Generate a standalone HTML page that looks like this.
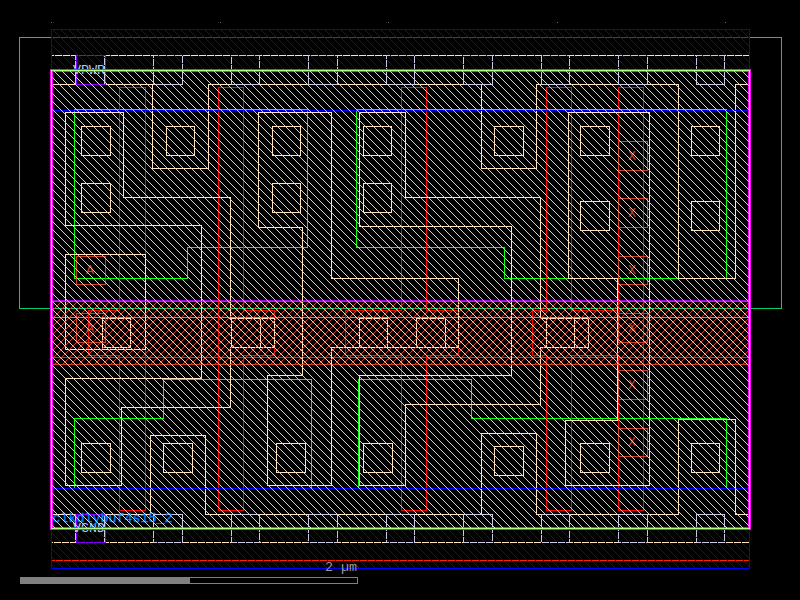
<!DOCTYPE html>
<html lang="en">
<head>
<meta charset="utf-8">
<title>clkdlybuf4s15_2 layout view</title>
<style>
html,body{margin:0;padding:0;background:#000;overflow:hidden}
svg{display:block}
</style>
</head>
<body>
<svg width="800" height="600" viewBox="0 0 800 600" shape-rendering="crispEdges" fill="none" stroke-width="1" text-rendering="optimizeLegibility">
<rect x="0" y="0" width="800" height="600" fill="#000000"/>
<defs><pattern id="hb" width="8" height="8" patternUnits="userSpaceOnUse"><rect x="7" y="0" width="1" height="1" fill="#0000ff"/><rect x="0" y="1" width="1" height="1" fill="#0000ff"/><rect x="1" y="2" width="1" height="1" fill="#0000ff"/><rect x="2" y="3" width="1" height="1" fill="#0000ff"/><rect x="3" y="4" width="1" height="1" fill="#0000ff"/><rect x="4" y="5" width="1" height="1" fill="#0000ff"/><rect x="5" y="6" width="1" height="1" fill="#0000ff"/><rect x="6" y="7" width="1" height="1" fill="#0000ff"/></pattern><pattern id="hy" width="8" height="8" patternUnits="userSpaceOnUse"><rect x="7" y="0" width="1" height="1" fill="#afff80"/><rect x="0" y="1" width="1" height="1" fill="#afff80"/><rect x="1" y="2" width="1" height="1" fill="#afff80"/><rect x="2" y="3" width="1" height="1" fill="#afff80"/><rect x="3" y="4" width="1" height="1" fill="#afff80"/><rect x="4" y="5" width="1" height="1" fill="#afff80"/><rect x="5" y="6" width="1" height="1" fill="#afff80"/><rect x="6" y="7" width="1" height="1" fill="#afff80"/></pattern><pattern id="hn" width="8" height="8" patternUnits="userSpaceOnUse"><rect x="2" y="0" width="1" height="1" fill="#cc4028"/><rect x="1" y="1" width="1" height="1" fill="#cc4028"/><rect x="0" y="2" width="1" height="1" fill="#cc4028"/><rect x="7" y="3" width="1" height="1" fill="#cc4028"/><rect x="6" y="4" width="1" height="1" fill="#cc4028"/><rect x="5" y="5" width="1" height="1" fill="#cc4028"/><rect x="4" y="6" width="1" height="1" fill="#cc4028"/><rect x="3" y="7" width="1" height="1" fill="#cc4028"/></pattern></defs>
<rect x="51" y="22" width="1" height="1" fill="#6a6a78" stroke="none"/>
<rect x="51" y="191" width="1" height="1" fill="#6a6a78" stroke="none"/>
<rect x="51" y="359" width="1" height="1" fill="#6a6a78" stroke="none"/>
<rect x="220" y="22" width="1" height="1" fill="#6a6a78" stroke="none"/>
<rect x="220" y="191" width="1" height="1" fill="#6a6a78" stroke="none"/>
<rect x="220" y="359" width="1" height="1" fill="#6a6a78" stroke="none"/>
<rect x="388" y="22" width="1" height="1" fill="#6a6a78" stroke="none"/>
<rect x="388" y="191" width="1" height="1" fill="#6a6a78" stroke="none"/>
<rect x="388" y="359" width="1" height="1" fill="#6a6a78" stroke="none"/>
<rect x="557" y="22" width="1" height="1" fill="#6a6a78" stroke="none"/>
<rect x="557" y="191" width="1" height="1" fill="#6a6a78" stroke="none"/>
<rect x="557" y="359" width="1" height="1" fill="#6a6a78" stroke="none"/>
<rect x="725" y="22" width="1" height="1" fill="#6a6a78" stroke="none"/>
<rect x="725" y="191" width="1" height="1" fill="#6a6a78" stroke="none"/>
<rect x="725" y="359" width="1" height="1" fill="#6a6a78" stroke="none"/>
<path d="M19.5 37.5 L781.5 37.5 L781.5 308.5 L19.5 308.5 Z" stroke="#00d070" />
<path d="M51.5 37.5 L749.5 37.5 L749.5 300.5 L51.5 300.5 Z" stroke="#9900dd" />
<path d="M51.5 357.5 L749.5 357.5 L749.5 560.5 L51.5 560.5 Z" stroke="#ff2000" />
<path d="M51.5 70.5 L749.5 70.5 L749.5 317.5 L51.5 317.5 Z" stroke="#ff8000" />
<path d="M74.5 109.5 L307.5 109.5 L307.5 247.5 L187.5 247.5 L187.5 278.5 L74.5 278.5 Z" stroke="#00ff00" />
<path d="M356.5 109.5 L726.5 109.5 L726.5 278.5 L504.5 278.5 L504.5 247.5 L356.5 247.5 Z" stroke="#00ff00" />
<path d="M74.5 418.5 L163.5 418.5 L163.5 379.5 L311.5 379.5 L311.5 488.5 L74.5 488.5 Z" stroke="#00ff00" />
<path d="M358.5 379.5 L471.5 379.5 L471.5 418.5 L726.5 418.5 L726.5 488.5 L358.5 488.5 Z" stroke="#00ff00" />
<path d="M119.5 87.5 L145.5 87.5 L145.5 510.5 L119.5 510.5 L119.5 355.5 L88.5 355.5 L88.5 310.5 L119.5 310.5 Z" stroke="#ff0000" />
<path d="M218.5 87.5 L243.5 87.5 L243.5 310.5 L274.5 310.5 L274.5 355.5 L243.5 355.5 L243.5 510.5 L218.5 510.5 Z" stroke="#ff0000" />
<path d="M401.5 87.5 L426.5 87.5 L426.5 310.5 L458.5 310.5 L458.5 355.5 L426.5 355.5 L426.5 510.5 L401.5 510.5 L401.5 355.5 L345.5 355.5 L345.5 310.5 L401.5 310.5 Z" stroke="#ff0000" />
<path d="M546.5 87.5 L571.5 87.5 L571.5 310.5 L618.5 310.5 L618.5 87.5 L643.5 87.5 L643.5 510.5 L618.5 510.5 L618.5 355.5 L571.5 355.5 L571.5 510.5 L546.5 510.5 L546.5 355.5 L532.5 355.5 L532.5 310.5 L546.5 310.5 Z" stroke="#ff0000" />
<path d="M51.5 55.5 L749.5 55.5 L749.5 84.5 L735.5 84.5 L735.5 278.5 L678.5 278.5 L678.5 84.5 L536.5 84.5 L536.5 168.5 L481.5 168.5 L481.5 84.5 L208.5 84.5 L208.5 168.5 L152.5 168.5 L152.5 84.5 L51.5 84.5 Z" stroke="#ffe2bc" />
<path d="M51.5 542.5 L749.5 542.5 L749.5 514.5 L735.5 514.5 L735.5 419.5 L678.5 419.5 L678.5 514.5 L536.5 514.5 L536.5 433.5 L481.5 433.5 L481.5 514.5 L205.5 514.5 L205.5 435.5 L150.5 435.5 L150.5 514.5 L51.5 514.5 Z" stroke="#ffe2bc" />
<path d="M65.5 112.5 L123.5 112.5 L123.5 197.5 L230.5 197.5 L230.5 318.5 L274.5 318.5 L274.5 347.5 L230.5 347.5 L230.5 407.5 L121.5 407.5 L121.5 485.5 L65.5 485.5 L65.5 378.5 L201.5 378.5 L201.5 225.5 L65.5 225.5 Z" stroke="#ffe2bc" />
<path d="M65.5 254.5 L145.5 254.5 L145.5 349.5 L65.5 349.5 Z" stroke="#ffe2bc" />
<path d="M258.5 112.5 L331.5 112.5 L331.5 278.5 L458.5 278.5 L458.5 347.5 L331.5 347.5 L331.5 485.5 L267.5 485.5 L267.5 375.5 L302.5 375.5 L302.5 227.5 L258.5 227.5 Z" stroke="#ffe2bc" />
<path d="M359.5 112.5 L405.5 112.5 L405.5 197.5 L540.5 197.5 L540.5 318.5 L588.5 318.5 L588.5 347.5 L540.5 347.5 L540.5 404.5 L405.5 404.5 L405.5 485.5 L359.5 485.5 L359.5 375.5 L511.5 375.5 L511.5 226.5 L359.5 226.5 Z" stroke="#ffe2bc" />
<path d="M568.5 112.5 L649.5 112.5 L649.5 485.5 L565.5 485.5 L565.5 420.5 L617.5 420.5 L617.5 278.5 L568.5 278.5 Z" stroke="#ffe2bc" />
<path d="M81.5 126.5 L110.5 126.5 L110.5 155.5 L81.5 155.5 Z" stroke="#ffe2bc" />
<path d="M81.5 183.5 L110.5 183.5 L110.5 212.5 L81.5 212.5 Z" stroke="#ffe2bc" />
<path d="M166.5 126.5 L194.5 126.5 L194.5 155.5 L166.5 155.5 Z" stroke="#ffe2bc" />
<path d="M272.5 126.5 L300.5 126.5 L300.5 155.5 L272.5 155.5 Z" stroke="#ffe2bc" />
<path d="M272.5 183.5 L300.5 183.5 L300.5 212.5 L272.5 212.5 Z" stroke="#ffe2bc" />
<path d="M363.5 126.5 L391.5 126.5 L391.5 155.5 L363.5 155.5 Z" stroke="#ffe2bc" />
<path d="M363.5 183.5 L391.5 183.5 L391.5 212.5 L363.5 212.5 Z" stroke="#ffe2bc" />
<path d="M494.5 126.5 L523.5 126.5 L523.5 155.5 L494.5 155.5 Z" stroke="#ffe2bc" />
<path d="M580.5 126.5 L609.5 126.5 L609.5 155.5 L580.5 155.5 Z" stroke="#ffe2bc" />
<path d="M580.5 201.5 L609.5 201.5 L609.5 230.5 L580.5 230.5 Z" stroke="#ffe2bc" />
<path d="M691.5 126.5 L719.5 126.5 L719.5 155.5 L691.5 155.5 Z" stroke="#ffe2bc" />
<path d="M691.5 201.5 L719.5 201.5 L719.5 230.5 L691.5 230.5 Z" stroke="#ffe2bc" />
<path d="M102.5 318.5 L130.5 318.5 L130.5 347.5 L102.5 347.5 Z" stroke="#ffe2bc" />
<path d="M231.5 318.5 L260.5 318.5 L260.5 347.5 L231.5 347.5 Z" stroke="#ffe2bc" />
<path d="M359.5 318.5 L387.5 318.5 L387.5 347.5 L359.5 347.5 Z" stroke="#ffe2bc" />
<path d="M416.5 318.5 L445.5 318.5 L445.5 347.5 L416.5 347.5 Z" stroke="#ffe2bc" />
<path d="M546.5 318.5 L574.5 318.5 L574.5 347.5 L546.5 347.5 Z" stroke="#ffe2bc" />
<path d="M81.5 443.5 L110.5 443.5 L110.5 472.5 L81.5 472.5 Z" stroke="#ffe2bc" />
<path d="M163.5 443.5 L192.5 443.5 L192.5 472.5 L163.5 472.5 Z" stroke="#ffe2bc" />
<path d="M276.5 443.5 L305.5 443.5 L305.5 472.5 L276.5 472.5 Z" stroke="#ffe2bc" />
<path d="M363.5 443.5 L392.5 443.5 L392.5 472.5 L363.5 472.5 Z" stroke="#ffe2bc" />
<path d="M494.5 446.5 L523.5 446.5 L523.5 475.5 L494.5 475.5 Z" stroke="#ffe2bc" />
<path d="M580.5 443.5 L609.5 443.5 L609.5 472.5 L580.5 472.5 Z" stroke="#ffe2bc" />
<path d="M691.5 443.5 L719.5 443.5 L719.5 472.5 L691.5 472.5 Z" stroke="#ffe2bc" />
<path d="M75.5 55.5 L104.5 55.5 L104.5 84.5 L75.5 84.5 Z" stroke="#c9c8e2" />
<path d="M75.5 514.5 L104.5 514.5 L104.5 542.5 L75.5 542.5 Z" stroke="#c9c8e2" />
<path d="M153.5 55.5 L182.5 55.5 L182.5 84.5 L153.5 84.5 Z" stroke="#c9c8e2" />
<path d="M153.5 514.5 L182.5 514.5 L182.5 542.5 L153.5 542.5 Z" stroke="#c9c8e2" />
<path d="M231.5 55.5 L259.5 55.5 L259.5 84.5 L231.5 84.5 Z" stroke="#c9c8e2" />
<path d="M231.5 514.5 L259.5 514.5 L259.5 542.5 L231.5 542.5 Z" stroke="#c9c8e2" />
<path d="M308.5 55.5 L337.5 55.5 L337.5 84.5 L308.5 84.5 Z" stroke="#c9c8e2" />
<path d="M308.5 514.5 L337.5 514.5 L337.5 542.5 L308.5 542.5 Z" stroke="#c9c8e2" />
<path d="M386.5 55.5 L414.5 55.5 L414.5 84.5 L386.5 84.5 Z" stroke="#c9c8e2" />
<path d="M386.5 514.5 L414.5 514.5 L414.5 542.5 L386.5 542.5 Z" stroke="#c9c8e2" />
<path d="M463.5 55.5 L492.5 55.5 L492.5 84.5 L463.5 84.5 Z" stroke="#c9c8e2" />
<path d="M463.5 514.5 L492.5 514.5 L492.5 542.5 L463.5 542.5 Z" stroke="#c9c8e2" />
<path d="M541.5 55.5 L569.5 55.5 L569.5 84.5 L541.5 84.5 Z" stroke="#c9c8e2" />
<path d="M541.5 514.5 L569.5 514.5 L569.5 542.5 L541.5 542.5 Z" stroke="#c9c8e2" />
<path d="M618.5 55.5 L647.5 55.5 L647.5 84.5 L618.5 84.5 Z" stroke="#c9c8e2" />
<path d="M618.5 514.5 L647.5 514.5 L647.5 542.5 L618.5 542.5 Z" stroke="#c9c8e2" />
<path d="M696.5 55.5 L724.5 55.5 L724.5 84.5 L696.5 84.5 Z" stroke="#c9c8e2" />
<path d="M696.5 514.5 L724.5 514.5 L724.5 542.5 L696.5 542.5 Z" stroke="#c9c8e2" />
<path d="M76.5 55.5 L105.5 55.5 L105.5 84.5 L76.5 84.5 Z" stroke="#8800ff" />
<path d="M76.5 514.5 L105.5 514.5 L105.5 542.5 L76.5 542.5 Z" stroke="#8800ff" />
<rect x="51" y="29" width="699" height="82" fill="url(#hb)" stroke="none"/>
<rect x="51" y="488" width="699" height="81" fill="url(#hb)" stroke="none"/>
<path d="M51.5 29.5 L749.5 29.5 L749.5 110.5 L51.5 110.5 Z" stroke="#0000ff" />
<path d="M51.5 488.5 L749.5 488.5 L749.5 568.5 L51.5 568.5 Z" stroke="#0000ff" />
<rect x="51" y="301" width="699" height="64" fill="url(#hn)" stroke="none"/>
<path d="M51.5 301.5 L749.5 301.5 L749.5 364.5 L51.5 364.5 Z" stroke="#cc4028" />
<path d="M76.5 256.5 L105.5 256.5 L105.5 284.5 L76.5 284.5 Z" stroke="#cc4028" />
<path d="M76.5 313.5 L105.5 313.5 L105.5 342.5 L76.5 342.5 Z" stroke="#cc4028" />
<path d="M618.5 141.5 L647.5 141.5 L647.5 170.5 L618.5 170.5 Z" stroke="#cc4028" />
<path d="M618.5 198.5 L647.5 198.5 L647.5 227.5 L618.5 227.5 Z" stroke="#cc4028" />
<path d="M618.5 256.5 L647.5 256.5 L647.5 284.5 L618.5 284.5 Z" stroke="#cc4028" />
<path d="M618.5 313.5 L647.5 313.5 L647.5 342.5 L618.5 342.5 Z" stroke="#cc4028" />
<path d="M618.5 370.5 L647.5 370.5 L647.5 399.5 L618.5 399.5 Z" stroke="#cc4028" />
<path d="M618.5 428.5 L647.5 428.5 L647.5 456.5 L618.5 456.5 Z" stroke="#cc4028" />
<text x="90.0" y="274.2" text-anchor="middle" fill="#cc4028" font-family="Liberation Mono, DejaVu Sans Mono, monospace" font-size="13.33" stroke="none">A</text>
<text x="90.0" y="331.7" text-anchor="middle" fill="#cc4028" font-family="Liberation Mono, DejaVu Sans Mono, monospace" font-size="13.33" stroke="none">A</text>
<text x="632.0" y="159.7" text-anchor="middle" fill="#cc4028" font-family="Liberation Mono, DejaVu Sans Mono, monospace" font-size="13.33" stroke="none">X</text>
<text x="632.0" y="216.7" text-anchor="middle" fill="#cc4028" font-family="Liberation Mono, DejaVu Sans Mono, monospace" font-size="13.33" stroke="none">X</text>
<text x="632.0" y="274.2" text-anchor="middle" fill="#cc4028" font-family="Liberation Mono, DejaVu Sans Mono, monospace" font-size="13.33" stroke="none">X</text>
<text x="632.0" y="331.7" text-anchor="middle" fill="#cc4028" font-family="Liberation Mono, DejaVu Sans Mono, monospace" font-size="13.33" stroke="none">X</text>
<text x="632.0" y="388.7" text-anchor="middle" fill="#cc4028" font-family="Liberation Mono, DejaVu Sans Mono, monospace" font-size="13.33" stroke="none">X</text>
<text x="632.0" y="446.2" text-anchor="middle" fill="#cc4028" font-family="Liberation Mono, DejaVu Sans Mono, monospace" font-size="13.33" stroke="none">X</text>
<text x="89" y="74" text-anchor="middle" fill="#a8ccff" font-family="Liberation Mono, DejaVu Sans Mono, monospace" font-size="13.33" stroke="none">VPWR</text>
<text x="89" y="532" text-anchor="middle" fill="#a8ccff" font-family="Liberation Mono, DejaVu Sans Mono, monospace" font-size="13.33" stroke="none">VGND</text>
<rect x="51.5" y="70.5" width="698" height="458" stroke="#ff00ff" stroke-width="3"/>
<text x="52.5" y="522" fill="#0080ff" font-family="Liberation Mono, DejaVu Sans Mono, monospace" font-size="13.33" stroke="none" style="stroke:#0080ff;stroke-width:0.35">clkdlybuf4s15_2</text>
<rect x="51" y="70" width="699" height="459" fill="url(#hy)" stroke="none"/>
<path d="M51.5 70.5 L749.5 70.5 L749.5 528.5 L51.5 528.5 Z" stroke="#afff80" />
<text x="357" y="571" text-anchor="end" fill="#989898" font-family="Liberation Mono, DejaVu Sans Mono, monospace" font-size="13.33" stroke="none">2 µm</text>
<rect x="20" y="577" width="170" height="7" fill="#808080" stroke="none"/>
<path d="M20.5 577.5 L357.5 577.5 L357.5 583.5 L20.5 583.5 Z" stroke="#808080" />
</svg>
</body>
</html>
